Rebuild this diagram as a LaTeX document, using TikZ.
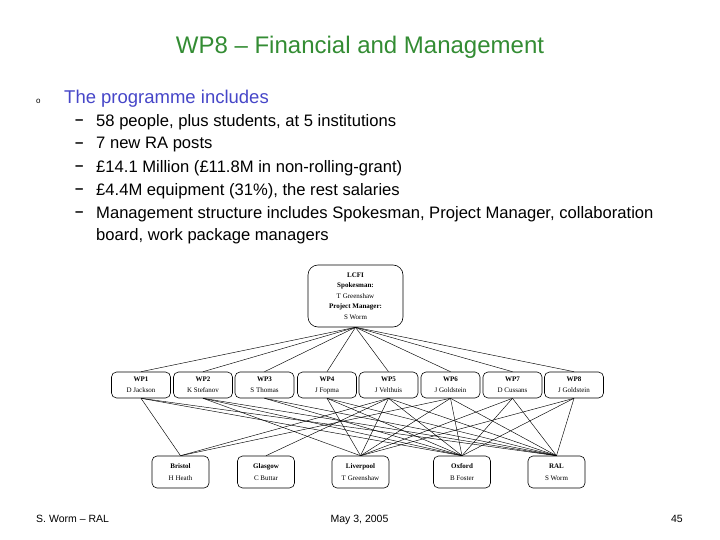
\documentclass[tikz,border=0pt]{standalone}
\usepackage{fontspec}
\setmainfont{Liberation Sans}
\newfontfamily\boxfont{Liberation Serif}
\definecolor{titlegreen}{RGB}{51,140,51}
\definecolor{headblue}{RGB}{70,70,200}
\begin{document}
\begin{tikzpicture}[x=1pt,y=-1pt,
  orgbox/.style={draw, rounded corners=5pt, line width=0.6pt, align=center, inner sep=0pt,
    font=\boxfont\fontsize{7}{10.5}\selectfont},
  wpbox/.style={orgbox, minimum width=59pt, minimum height=26pt},
  instbox/.style={orgbox, minimum width=57pt, minimum height=32pt, font=\boxfont\fontsize{7}{12}\selectfont},
  link/.style={line width=0.45pt},
  bodytext/.style={anchor=west, inner sep=0pt, font=\fontsize{16.6}{20}\selectfont},
  dashmark/.style={anchor=west, inner sep=0pt, font=\bfseries\fontsize{15}{18}\selectfont},
  foot/.style={inner sep=0pt, font=\fontsize{10.5}{12}\selectfont}
]
\useasboundingbox (0,0) rectangle (720,540);

% title and text
\node[inner sep=0pt, text=titlegreen, font=\fontsize{24}{28}\selectfont] (title) at (360,47) {WP8 -- Financial and Management};
\node[anchor=west, inner sep=0pt, font=\fontsize{8}{9}\selectfont] (bul) at (36,101) {o};
\node[anchor=west, inner sep=0pt, text=headblue, font=\fontsize{18.5}{22}\selectfont] (head) at (64,99) {The programme includes};

\node[dashmark] (d1) at (75,122) {--};
\node[dashmark] (d2) at (75,145) {--};
\node[dashmark] (d3) at (75,168) {--};
\node[dashmark] (d4) at (75,191) {--};
\node[dashmark] (d5) at (75,214) {--};
\node[bodytext] (t1) at (96,122) {58 people, plus students, at 5 institutions};
\node[bodytext] (t2) at (96,145) {7 new RA posts};
\node[bodytext] (t3) at (96,168) {£14.1 Million (£11.8M in non-rolling-grant)};
\node[bodytext] (t4) at (96,191) {£4.4M equipment (31\%), the rest salaries};
\node[bodytext] (t5) at (96,214) {Management structure includes Spokesman, Project Manager, collaboration};
\node[bodytext] (t6) at (96,236) {board, work package managers};

% org chart
\node[orgbox, rounded corners=10pt, minimum width=95pt, minimum height=62pt] (lcfi) at (355.5,296)
  {\strut\textbf{LCFI}\\\textbf{Spokesman:}\\T Greenshaw\\\textbf{Project Manager:}\\S Worm\strut};

\node[wpbox] (wp1) at (141,385) {\strut\textbf{WP1}\\D Jackson\strut};
\node[wpbox] (wp2) at (203,385) {\strut\textbf{WP2}\\K Stefanov\strut};
\node[wpbox] (wp3) at (264.5,385) {\strut\textbf{WP3}\\S Thomas\strut};
\node[wpbox] (wp4) at (327,385) {\strut\textbf{WP4}\\J Fopma\strut};
\node[wpbox] (wp5) at (388.5,385) {\strut\textbf{WP5}\\J Velthuis\strut};
\node[wpbox] (wp6) at (450.5,385) {\strut\textbf{WP6}\\J Goldstein\strut};
\node[wpbox] (wp7) at (512.5,385) {\strut\textbf{WP7}\\D Cussans\strut};
\node[wpbox] (wp8) at (574,385) {\strut\textbf{WP8}\\J Goldstein\strut};

\node[instbox] (bri) at (180.5,472) {\strut\textbf{Bristol}\\H Heath\strut};
\node[instbox] (gla) at (266,472) {\strut\textbf{Glasgow}\\C Buttar\strut};
\node[instbox] (liv) at (360.5,472) {\strut\textbf{Liverpool}\\T Greenshaw\strut};
\node[instbox] (oxf) at (462,472) {\strut\textbf{Oxford}\\B Foster\strut};
\node[instbox] (ral) at (556.5,472) {\strut\textbf{RAL}\\S Worm\strut};

\foreach \w in {wp1,wp2,wp3,wp4,wp5,wp6,wp7,wp8}
  \draw[link] (lcfi.south) -- (\w.north);

\foreach \w/\i in {wp1/bri,wp1/oxf,wp1/ral,
                   wp2/liv,wp2/oxf,wp2/ral,
                   wp3/oxf,wp3/ral,
                   wp4/liv,wp4/oxf,wp4/ral,
                   wp5/bri,wp5/gla,wp5/liv,wp5/oxf,wp5/ral,
                   wp6/bri,wp6/liv,wp6/oxf,wp6/ral,
                   wp7/liv,wp7/oxf,wp7/ral,
                   wp8/liv,wp8/oxf,wp8/ral}
  \draw[link] (\w.south) -- (\i.north);

% footer
\node[foot, anchor=base west] (f1) at (36,522) {S. Worm -- RAL};
\node[foot, anchor=base] (f2) at (359.5,522) {May 3, 2005};
\node[foot, anchor=base east] (f3) at (683,522) {45};
\end{tikzpicture}
\end{document}
